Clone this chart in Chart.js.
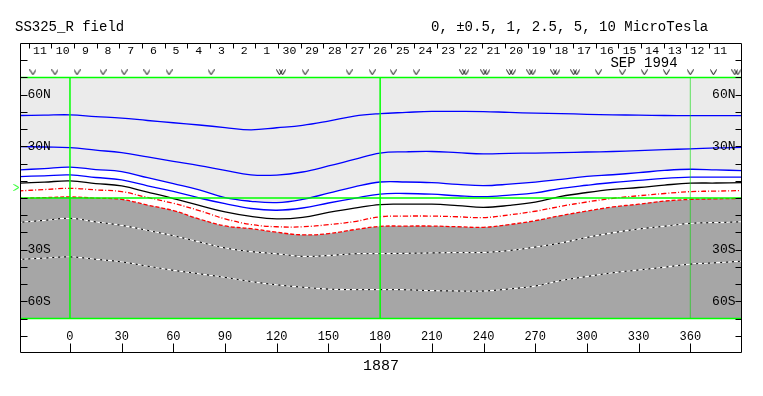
<!DOCTYPE html>
<html>
<head>
<meta charset="utf-8">
<script src="https://cdn.jsdelivr.net/npm/chart.js@4.4.0/dist/chart.umd.min.js"></script>
<style>
  html, body { margin: 0; padding: 0; background: #fff; }
</style>
</head>
<body>
<canvas id="fieldChart" width="763" height="396"></canvas>
<script>
// Carrington longitudes (deg), sampled every 15 deg, wrapping past 0 and 360
const longitudes = [-30, -15, 0, 15, 30, 45, 60, 75, 90, 105, 120, 135, 150, 165, 180,
  195, 210, 225, 240, 255, 270, 285, 300, 315, 330, 345, 360, 375, 390];

// contour latitudes (deg) along those longitudes, top to bottom
const blue1 = [47.9, 48.1, 48.3, 47.3, 46.4, 45.0, 43.7, 42.4, 40.9, 39.6, 40.8, 42.2, 44.7, 47.6, 49.0,
  49.7, 50.3, 50.3, 50.2, 49.7, 49.3, 49.0, 48.6, 48.3, 48.1, 47.9, 47.8, 47.8, 47.8];
const blue2 = [29.9, 29.6, 29.3, 27.8, 26.3, 23.9, 21.3, 18.8, 16.0, 13.4, 13.3, 15.1, 18.6, 22.4, 26.1,
  26.8, 27.0, 26.3, 25.6, 25.9, 26.1, 26.4, 26.7, 27.0, 27.5, 28.1, 28.5, 29.1, 29.4];
const blue3 = [16.3, 17.1, 17.9, 16.5, 15.3, 11.8, 8.3, 4.7, 0.2, -1.9, -2.7, -0.8, 2.8, 6.5, 9.3,
  9.3, 8.9, 7.9, 7.2, 8.0, 9.2, 10.8, 12.5, 13.5, 14.7, 16.0, 16.7, 16.3, 15.9];
const blue4 = [12.4, 12.9, 13.4, 11.9, 10.5, 7.1, 3.8, 0.0, -3.3, -6.1, -7.1, -5.8, -2.9, -0.2, 2.3,
  2.6, 2.2, 1.3, 0.8, 1.7, 3.0, 5.6, 7.4, 9.0, 10.2, 11.4, 12.1, 12.1, 12.1];
const black1 = [8.6, 9.2, 9.9, 8.4, 7.0, 3.4, -0.3, -4.3, -8.1, -10.7, -12.1, -11.2, -8.4, -5.9, -3.8,
  -3.6, -3.6, -4.4, -5.4, -4.3, -2.4, 0.9, 3.2, 5.0, 6.1, 7.5, 8.6, 8.7, 8.9];
const red1 = [4.1, 4.9, 5.6, 4.7, 3.7, 0.3, -3.1, -7.3, -12.1, -15.4, -16.7, -16.7, -15.5, -13.7, -10.9,
  -10.5, -10.5, -10.9, -11.4, -9.8, -7.7, -4.8, -2.3, -0.2, 1.3, 2.6, 3.7, 4.0, 4.3];
const red2 = [-0.2, 0.2, 0.6, -0.1, -0.8, -4.1, -7.3, -12.2, -16.2, -17.8, -19.9, -21.4, -20.7, -18.4, -16.5,
  -16.3, -16.3, -16.7, -17.0, -15.4, -13.2, -10.2, -7.6, -5.2, -3.6, -1.8, -0.8, -0.5, -0.2];
const white1 = [-14.2, -13.0, -11.8, -13.9, -15.9, -18.8, -21.9, -25.5, -29.0, -31.1, -32.4, -33.9, -33.4, -32.4, -32.3,
  -32.1, -31.9, -31.7, -31.6, -30.5, -28.5, -26.1, -22.9, -20.2, -18.0, -16.4, -14.7, -14.3, -13.8];
const white2 = [-35.7, -34.9, -34.2, -35.6, -37.1, -39.6, -42.0, -44.0, -46.1, -48.5, -50.4, -51.8, -52.9, -53.2, -53.2,
  -53.3, -53.8, -54.0, -54.0, -52.8, -51.1, -47.9, -45.6, -43.4, -41.8, -40.2, -38.4, -37.6, -36.7];

// "v" markers along the top strip (longitudes)
const markerLons = [-21.5, -8.7, 4.1, 19.2, 31.4, 44.7, 57.5, 81.9, 121.6, 123.4, 136.5, 162, 175.4, 187.6, 200.9,
  227.9, 229.7, 240.1, 241.9, 255.1, 256.9, 266.8, 268.6, 280.7, 282.5, 292.3, 294.1, 306.6, 320.5, 333.3,
  346.1, 360, 373.4, 385.8, 387.6];
const markerLat = 73;
const b0Lat = 6.1;

// axis ticks and labels
const lonTicks = [0, 30, 60, 90, 120, 150, 180, 210, 240, 270, 300, 330, 360];
const latTicks = [-80, -70, -60, -50, -40, -30, -20, -10, 0, 10, 20, 30, 40, 50, 60, 70, 80];
const latLabels = { 60: '60N', 30: '30N', '-30': '30S', '-60': '60S' };
const dayLabels = ['11', '10', '9', '8', '7', '6', '5', '4', '3', '2', '1', '30', '29', '28', '27', '26',
  '25', '24', '23', '22', '21', '20', '19', '18', '17', '16', '15', '14', '13', '12', '11'];
const dayLon0 = -17.4;     // longitude of first day label
const degPerDay = 13.16;   // Carrington rotation rate

const FONT = '"Liberation Mono", "DejaVu Sans Mono", monospace';

function chevron(color) {
  const c = document.createElement('canvas');
  c.width = 7; c.height = 6;
  const g = c.getContext('2d');
  g.strokeStyle = color;
  g.lineWidth = 1;
  g.beginPath();
  g.moveTo(0.5, 0.5); g.lineTo(3.5, 5.5); g.lineTo(6.5, 0.5);
  g.stroke();
  return c;
}

const pts = lats => longitudes.map((lon, i) => ({ x: lon, y: lats[i] }));
const contour = (lats, color, extra) => Object.assign({
  data: pts(lats), borderColor: color, borderWidth: 1.3, pointRadius: 0,
  tension: 0.4, fill: false, order: 2
}, extra);
const guide = (data, width, color) => ({
  data, borderColor: color || '#00ff00', borderWidth: width, pointRadius: 0, fill: false, order: 0
});

const framePlugin = {
  id: 'frame',
  afterDraw(chart) {
    const { ctx, chartArea: a } = chart;
    const xs = chart.scales.x, ys = chart.scales.y;
    const px = v => Math.round(xs.getPixelForValue(v)) + 0.5;
    const py = v => Math.round(ys.getPixelForValue(v)) + 0.5;
    const L = Math.round(a.left) + 0.5, R = Math.round(a.right) - 0.5;
    const T = Math.round(a.top) + 0.5, B = Math.round(a.bottom) - 0.5;
    ctx.save();
    ctx.strokeStyle = '#000';
    ctx.lineWidth = 1;
    ctx.beginPath();
    ctx.rect(L, T, R - L, B - T);
    latTicks.forEach(v => {
      const yy = py(v);
      ctx.moveTo(L, yy); ctx.lineTo(L + 7, yy);
      ctx.moveTo(R, yy); ctx.lineTo(R - 6, yy);
    });
    lonTicks.forEach(v => {
      const xx = px(v);
      ctx.moveTo(xx, B); ctx.lineTo(xx, B - 9);
    });
    dayLabels.forEach((d, i) => {
      const xx = px(dayLon0 + degPerDay * (i - 0.5));
      ctx.moveTo(xx, T); ctx.lineTo(xx, T + 5);
    });
    ctx.stroke();

    ctx.fillStyle = '#000';
    ctx.textBaseline = 'middle';
    // latitude labels inside the frame
    ctx.font = '13px ' + FONT;
    Object.keys(latLabels).forEach(k => {
      const yy = ys.getPixelForValue(Number(k));
      ctx.textAlign = 'left';
      ctx.fillText(latLabels[k], L + 7, yy);
      ctx.textAlign = 'right';
      ctx.fillText(latLabels[k], R - 6, yy);
    });
    // longitude labels
    ctx.font = '12px ' + FONT;
    ctx.textAlign = 'center';
    lonTicks.forEach(v => ctx.fillText(String(v), xs.getPixelForValue(v), 337));
    // day numbers
    ctx.font = '11.5px ' + FONT;
    dayLabels.forEach((d, i) => ctx.fillText(d, xs.getPixelForValue(dayLon0 + degPerDay * i), 50.5));
    ctx.font = '14px ' + FONT;
    ctx.fillText('SEP 1994', 644, 63);
    // titles
    ctx.textAlign = 'left';
    ctx.fillText('SS325_R field', 15, 27);
    ctx.fillText('0, \u00b10.5, 1, 2.5, 5, 10 MicroTesla', 431, 27);
    ctx.font = '15px ' + FONT;
    ctx.textAlign = 'center';
    ctx.fillText('1887', (a.left + a.right) / 2, 366);
    ctx.restore();
  }
};

new Chart(document.getElementById('fieldChart'), {
  type: 'line',
  data: {
    datasets: [
      guide([{ x: -29, y: 0 }, { x: 390, y: 0 }], 1.5),
      guide([{ x: -29, y: 70 }, { x: 390, y: 70 }], 1.5),
      guide([{ x: -29, y: -70 }, { x: 390, y: -70 }], 1.5),
      guide([{ x: 0, y: -70 }, { x: 0, y: 70 }], 1.5),
      guide([{ x: 180, y: -70 }, { x: 180, y: 70 }], 1.5),
      guide([{ x: 360, y: -70 }, { x: 360, y: 70 }], 1, 'rgba(0,220,0,0.6)'),
      {
        data: markerLons.map(lon => ({ x: lon, y: markerLat })), showLine: false,
        pointStyle: chevron('#000'), pointRadius: 3, order: 0
      },
      {
        data: [{ x: -31.1, y: b0Lat }], showLine: false, clip: false,
        pointStyle: chevron('#00ff00'), pointRotation: -90, pointRadius: 3, order: 0
      },
      contour(blue1, '#0000ff'),
      contour(blue2, '#0000ff'),
      contour(blue3, '#0000ff', { fill: { value: 70 }, backgroundColor: '#ebebeb' }),
      contour(blue4, '#0000ff'),
      contour(black1, '#000000'),
      contour(red1, '#ff0000', { borderDash: [5, 2, 1, 2] }),
      contour(red2, '#ff0000', { borderDash: [4, 2], fill: { value: -70 }, backgroundColor: '#a6a6a6' }),
      contour(white1, '#ffffff', { borderDash: [4, 2], order: 1 }),
      contour(white1, '#000000', { borderWidth: 1 }),
      contour(white2, '#ffffff', { borderDash: [4, 2], order: 1 }),
      contour(white2, '#000000', { borderWidth: 1 })
    ]
  },
  options: {
    responsive: false,
    animation: false,
    layout: { padding: { left: 20, right: 21, top: 43, bottom: 43 } },
    scales: {
      x: { type: 'linear', min: -29, max: 390, display: false },
      y: { type: 'linear', min: -90, max: 90, display: false }
    },
    plugins: {
      legend: { display: false },
      tooltip: { enabled: false },
      filler: { drawTime: 'beforeDatasetsDraw' }
    }
  },
  plugins: [framePlugin]
});
</script>
</body>
</html>
